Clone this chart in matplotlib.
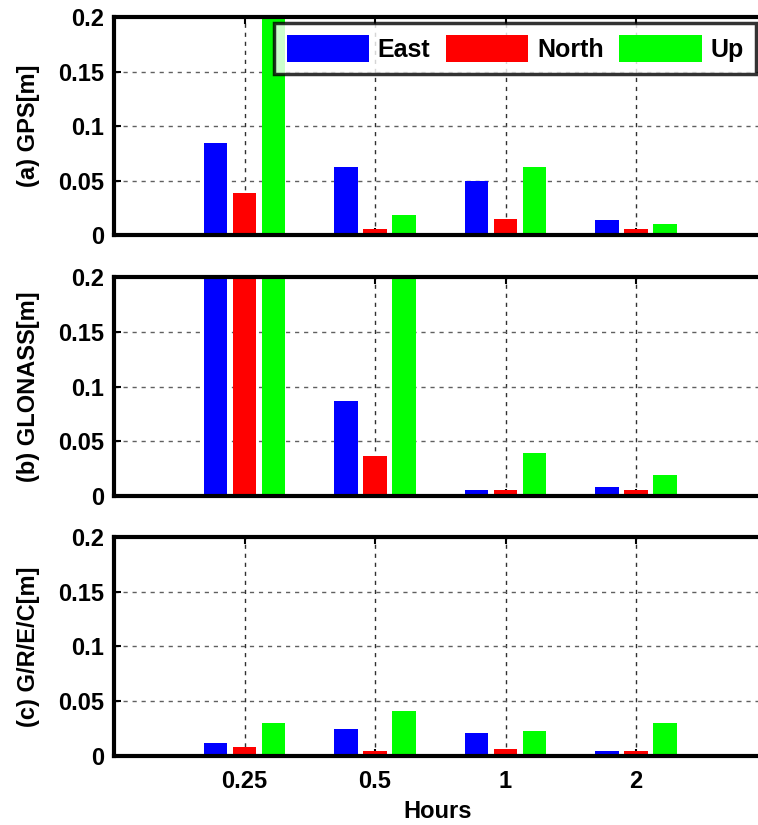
import matplotlib
matplotlib.use("Agg")
import matplotlib.pyplot as plt
import numpy as np

plt.rcParams['font.family'] = ['Liberation Sans', 'DejaVu Sans']
plt.rcParams['font.weight'] = 'bold'

hours = ['0.25', '0.5', '1', '2']
series = ['East', 'North', 'Up']
colors = ['#0000ff', '#ff0000', '#00ff00']

# RMS per solution type (m); values above 0.2 run off the top of the axis
gps_east = [0.085, 0.063, 0.050, 0.014]
gps_north = [0.039, 0.006, 0.015, 0.006]
gps_up = [0.25, 0.019, 0.063, 0.010]

glo_east = [0.25, 0.087, 0.005, 0.008]
glo_north = [0.25, 0.036, 0.005, 0.005]
glo_up = [0.25, 0.25, 0.039, 0.019]

multi_east = [0.012, 0.024, 0.021, 0.004]
multi_north = [0.008, 0.004, 0.006, 0.004]
multi_up = [0.030, 0.041, 0.023, 0.030]

panels = [
    ('(a) GPS[m]', [gps_east, gps_north, gps_up]),
    ('(b) GLONASS[m]', [glo_east, glo_north, glo_up]),
    ('(c) G/R/E/C[m]', [multi_east, multi_north, multi_up]),
]

W, H = 758, 825
fig = plt.figure(figsize=(W / 100, H / 100), dpi=100)

left_px = 114
width_px = 652.5
height_px = 218.4
tops_px = [17.0, 277.4, 537.3]

x = np.arange(1, len(hours) + 1)
offset = 0.222
bar_w = 0.182
fs = 17

axes = []
for (label, vals), top in zip(panels, tops_px):
    ax = fig.add_axes([left_px / W, 1 - (top + height_px) / H,
                       width_px / W, height_px / H])
    axes.append(ax)
    ax.set_axisbelow(True)
    for i, (name, v, c) in enumerate(zip(series, vals, colors)):
        ax.bar(x + (i - 1) * offset, v, width=bar_w, color=c,
               edgecolor='none', label=name, zorder=2)
    ax.set_xlim(0, 5)
    ax.set_ylim(0, 0.2)
    ax.set_yticks([0, 0.05, 0.1, 0.15, 0.2])
    ax.set_yticklabels(['0', '0.05', '0.1', '0.15', '0.2'])
    ax.set_xticks(x)
    ax.set_xticklabels(hours)
    ax.yaxis.grid(True, linestyle=(0, (3, 3.5)), color='#606060', linewidth=1.0)
    ax.xaxis.grid(True, linestyle=(0, (3, 3.5)), color='#303030', linewidth=1.0)
    ax.tick_params(axis='both', direction='in', length=5, width=1.5,
                   labelsize=fs, top=True, right=True)
    ax.tick_params(axis='y', pad=7)
    ax.tick_params(axis='x', pad=10)
    for s in ax.spines.values():
        s.set_linewidth(3)
    ax.set_ylabel(label, fontsize=fs, fontweight='bold')
    ax.yaxis.set_label_coords(-(left_px - 40) / width_px, 0.5)
    for t in ax.get_yticklabels() + ax.get_xticklabels():
        t.set_fontweight('bold')

for ax in axes[:-1]:
    ax.tick_params(axis='x', labelbottom=False)

leg = axes[0].legend(ncol=3, loc='upper left',
                     bbox_to_anchor=(274 / W, 1 - 22.7 / H),
                     bbox_transform=fig.transFigure,
                     borderaxespad=0, fontsize=18, frameon=True,
                     fancybox=False, edgecolor='black',
                     handlelength=3.3, handleheight=1.25,
                     handletextpad=0.35, columnspacing=0.62,
                     borderpad=0.5)
leg.get_frame().set_linewidth(2.5)
leg.set_zorder(5)
for t in leg.get_texts():
    t.set_fontweight('bold')

fig.text(438 / W, 1 - 811 / H, 'Hours', ha='center', va='center',
         fontsize=fs, fontweight='bold')

fig.savefig('out.png', dpi=100)
